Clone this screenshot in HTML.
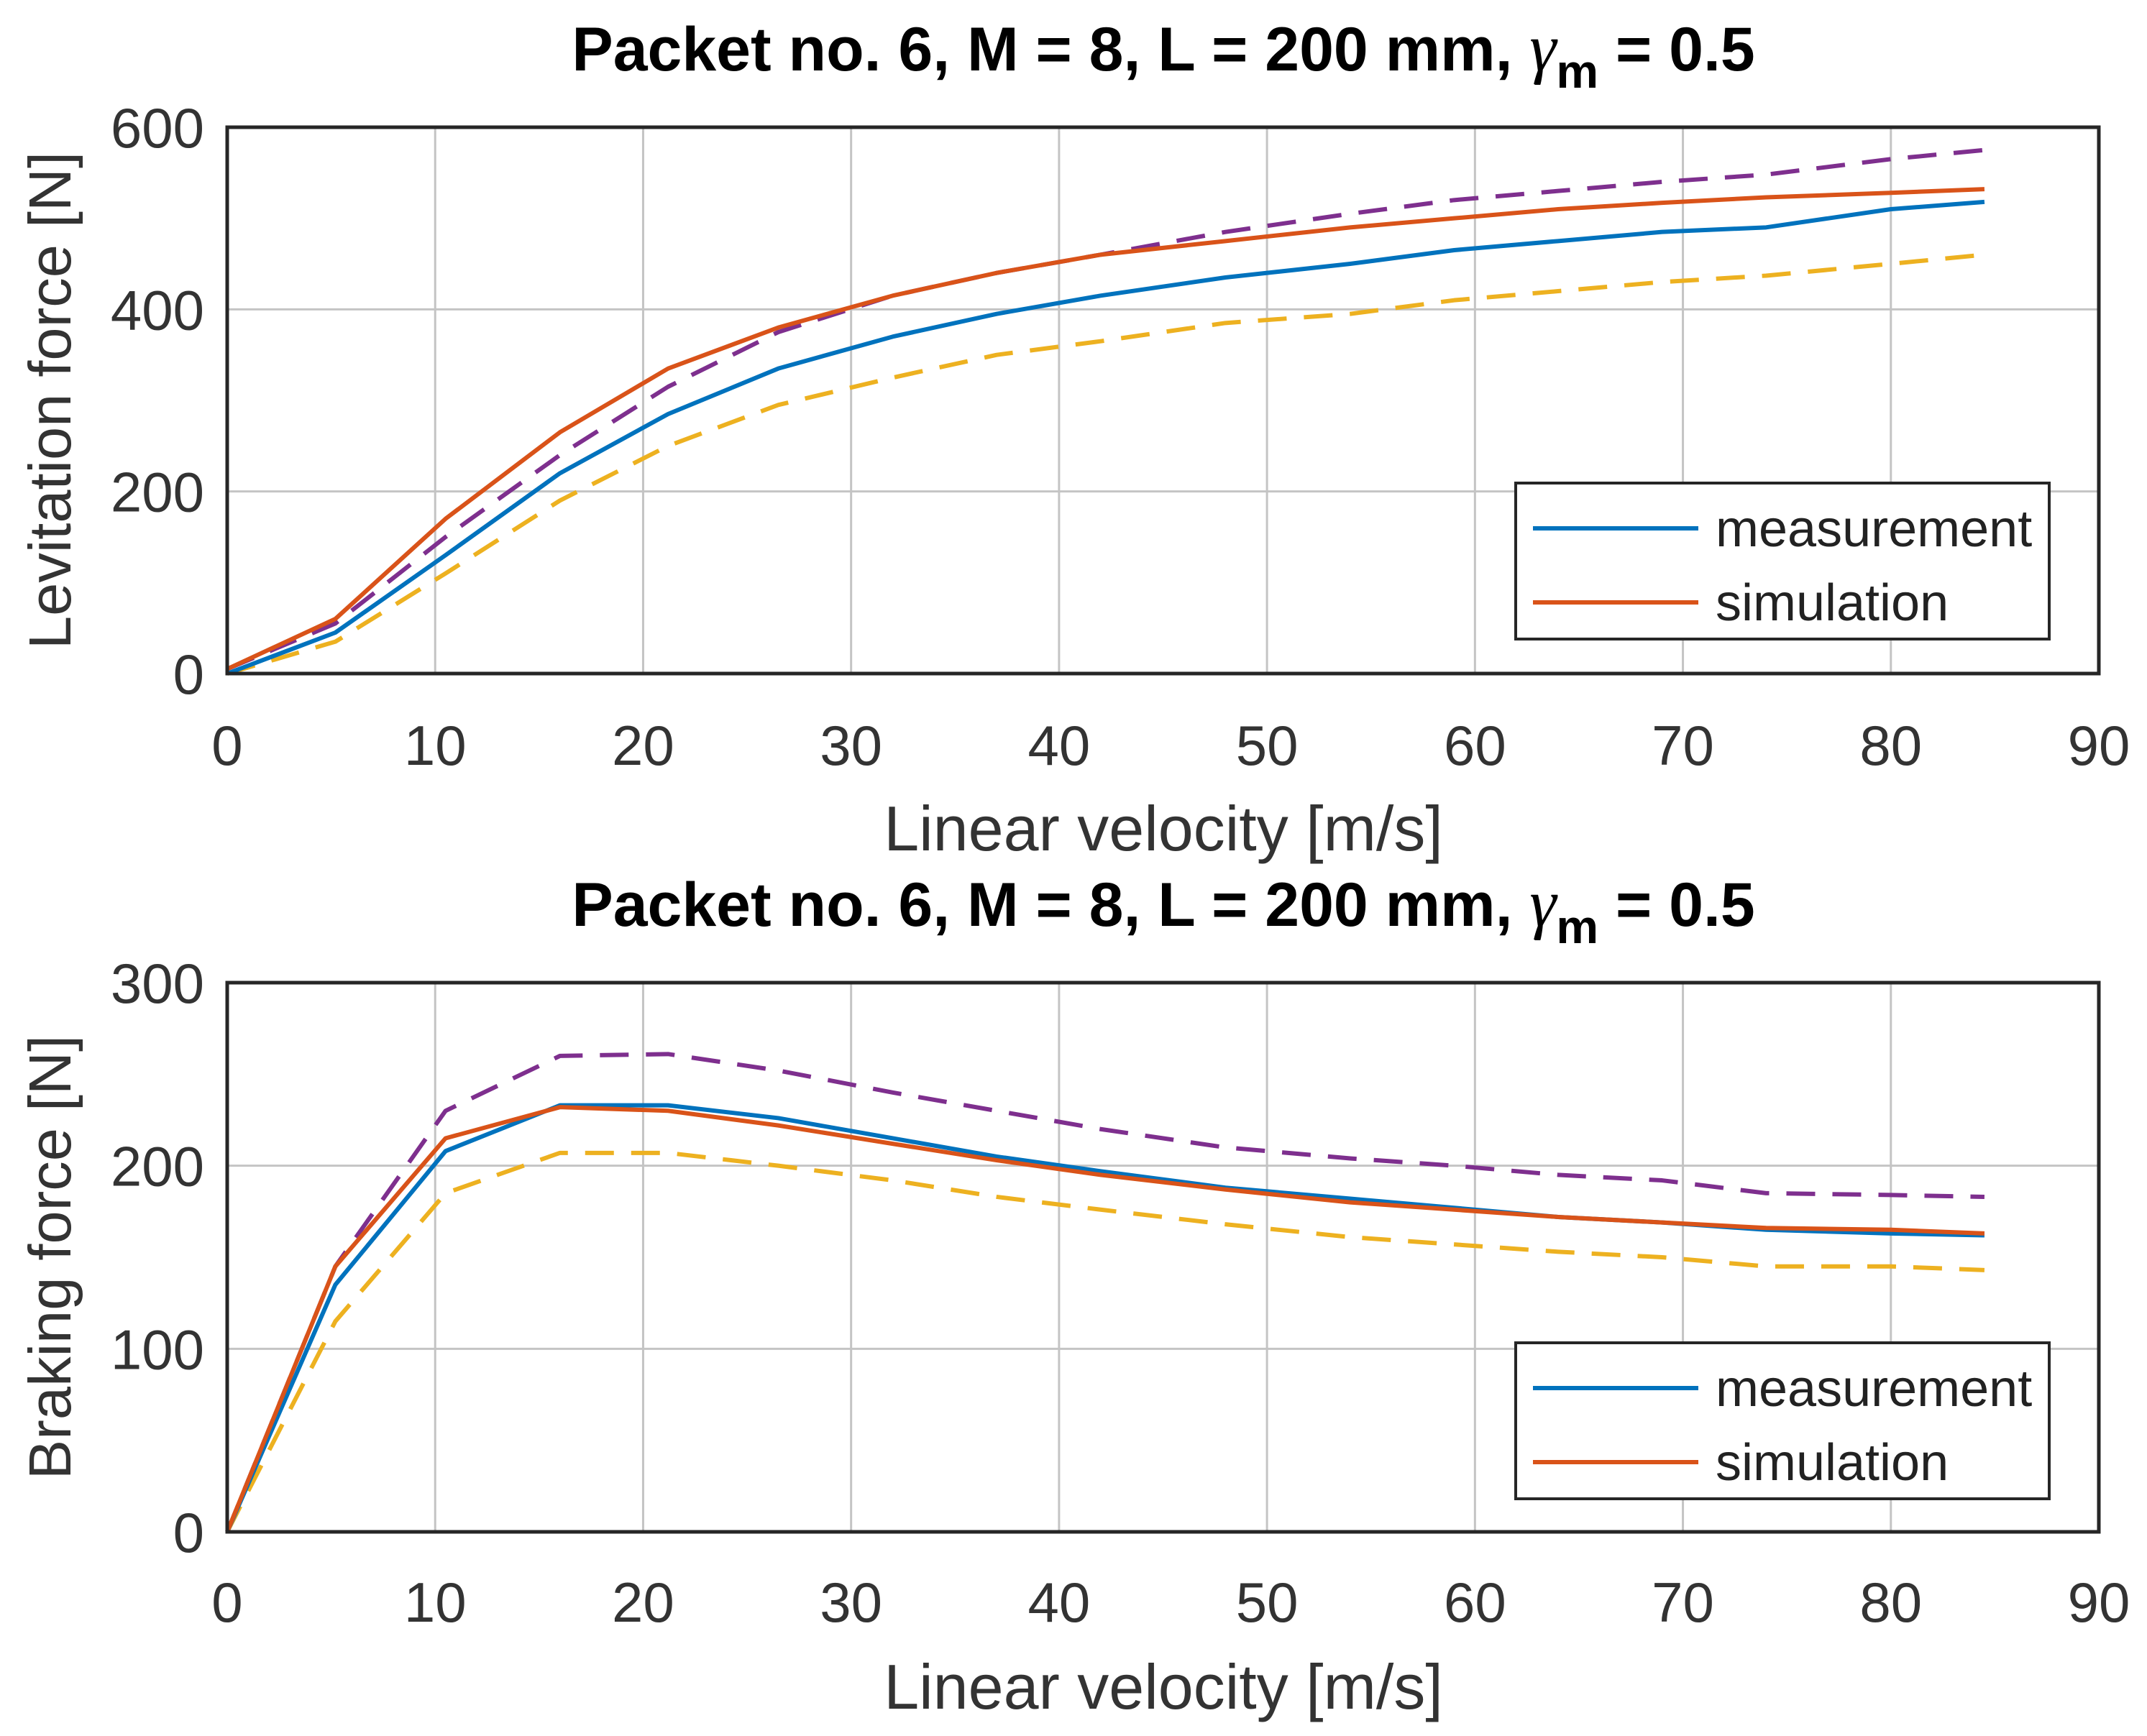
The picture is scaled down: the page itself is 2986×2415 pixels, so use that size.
<!DOCTYPE html>
<html><head><meta charset="utf-8"><style>
html,body{margin:0;padding:0;background:#fff;}
svg{display:block;font-family:"Liberation Sans",Arial,sans-serif;}
</style></head><body>
<svg id="chart" width="2986" height="2415" viewBox="0 0 2986 2415">
<rect width="2986" height="2415" fill="#fff"/>
</svg>
<script>
const xTicks = [0,10,20,30,40,50,60,70,80,90];
const topYTicks = [0,200,400,600];
const botYTicks = [0,100,200,300];
const vel = [0,5.2,10.5,16,21.2,26.5,32,37,42,48,54,59,64,69,74,80,84.5];
const levMeas = [0,45,130,220,285,335,370,395,415,435,450,465,475,485,490,510,518];
const levSim  = [5,60,170,265,335,380,415,440,460,475,490,500,510,517,523,528,532];
const levUp   = [5,55,150,240,315,375,415,440,460,485,505,520,530,540,548,565,575];
const levLow  = [0,35,110,190,250,295,325,350,365,385,395,410,420,430,437,450,460];
const brkMeas = [0,135,208,233,233,226,215,205,197,188,182,177,172,169,165,163,162];
const brkSim  = [0,145,215,232,230,222,212,203,195,187,180,176,172,169,166,165,163];
const brkUp   = [0,145,230,260,261,252,240,230,220,210,204,200,195,192,185,184,183];
const brkLow  = [0,115,185,207,207,200,192,183,176,168,161,157,153,150,145,145,143];

const NS='http://www.w3.org/2000/svg';
const svg=document.getElementById('chart');
function mk(tag,attrs,parent){const e=document.createElementNS(NS,tag);for(const k in attrs)e.setAttribute(k,attrs[k]);(parent||svg).appendChild(e);return e;}

function panel(cfg){
  const L=316,R=2919,T=cfg.top,B=cfg.bottom;
  const g=mk('g',{});
  
  
  const sx=v=>L+(v-0)/90*(R-L);
  const sy=v=>B-(v/cfg.ymax)*(B-T);
  xTicks.forEach(t=>{
    const l=mk('line',{x1:sx(t),x2:sx(t),y1:T,y2:B,stroke:'#c4c4c4','stroke-width':3},g);
    
    
    const tx=mk('text',{x:sx(t),y:cfg.tickY,'font-size':78,fill:'#333','text-anchor':'middle'},g);
    tx.textContent=t;
    
    
  });
  cfg.yticks.forEach(t=>{
    const l=mk('line',{x1:L,x2:R,y1:sy(t),y2:sy(t),stroke:'#c4c4c4','stroke-width':3},g);
    
    
    const tx=mk('text',{x:284,y:sy(t)+28,'font-size':78,fill:'#333','text-anchor':'end'},g);
    tx.textContent=t;
    
    
  });
  const series=[
    {d:cfg.up,c:'#7e2f8e',dash:'40,24',n:'upper-bound-line'},
    {d:cfg.low,c:'#edb120',dash:'40,24',n:'lower-bound-line'},
    {d:cfg.meas,c:'#0072bd',dash:'',n:'measurement-line'},
    {d:cfg.sim,c:'#d95319',dash:'',n:'simulation-line'}
  ];
  series.forEach(s=>{
    const p=mk('polyline',{points:vel.map((v,i)=>sx(v)+','+sy(s.d[i])).join(' '),fill:'none',stroke:s.c,'stroke-width':6,'stroke-dasharray':s.dash,'stroke-linejoin':'round'},g);
    
    
  });
  const box=mk('rect',{x:L,y:T,width:R-L,height:B-T,fill:'none',stroke:'#262626','stroke-width':5},g);
  
  
  const ti=mk('text',{x:1618,y:cfg.titleY,'font-size':86,'font-weight':'bold','text-anchor':'middle',fill:'#000'},g);
  ti.innerHTML='Packet no. 6, M = 8, L = 200 mm, <tspan font-family="Liberation Serif" font-style="italic" font-weight="normal" font-size="94">γ</tspan><tspan font-size="66" dy="24">m</tspan><tspan dy="-24"> = 0.5</tspan>';
  
  
  const xl=mk('text',{x:1618,y:cfg.xlabY,'font-size':88,fill:'#333','text-anchor':'middle'},g);
  xl.textContent='Linear velocity [m/s]';
  
  
  const yc=(T+B)/2;
  const yl=mk('text',{x:98,y:yc,'font-size':83,fill:'#333','text-anchor':'middle',transform:'rotate(-90 98 '+yc+')'},g);
  yl.textContent=cfg.ylabel;
  
  
  const lg=mk('g',{},g);
  
  
  mk('rect',{x:2108,y:cfg.legY,width:742,height:217,fill:'#fff',stroke:'#262626','stroke-width':4},lg);
  [['measurement','#0072bd',63],['simulation','#d95319',166]].forEach(([t,c,dy])=>{
    const e=mk('g',{},lg);
    
    
    mk('line',{x1:2132,x2:2362,y1:cfg.legY+dy,y2:cfg.legY+dy,stroke:c,'stroke-width':6},e);
    const tx=mk('text',{x:2386,y:cfg.legY+dy+25,'font-size':72,fill:'#222'},e);
    tx.textContent=t;
  });
}
panel({name:'levitation-panel',top:177,bottom:937,ymax:600,yticks:topYTicks,meas:levMeas,sim:levSim,up:levUp,low:levLow,tickY:1064,xlabY:1183,titleY:98,ylabel:'Levitation force [N]',legY:672});
panel({name:'braking-panel',top:1367,bottom:2131,ymax:300,yticks:botYTicks,meas:brkMeas,sim:brkSim,up:brkUp,low:brkLow,tickY:2256,xlabY:2377,titleY:1288,ylabel:'Braking force [N]',legY:1868});
</script>
</body></html>
